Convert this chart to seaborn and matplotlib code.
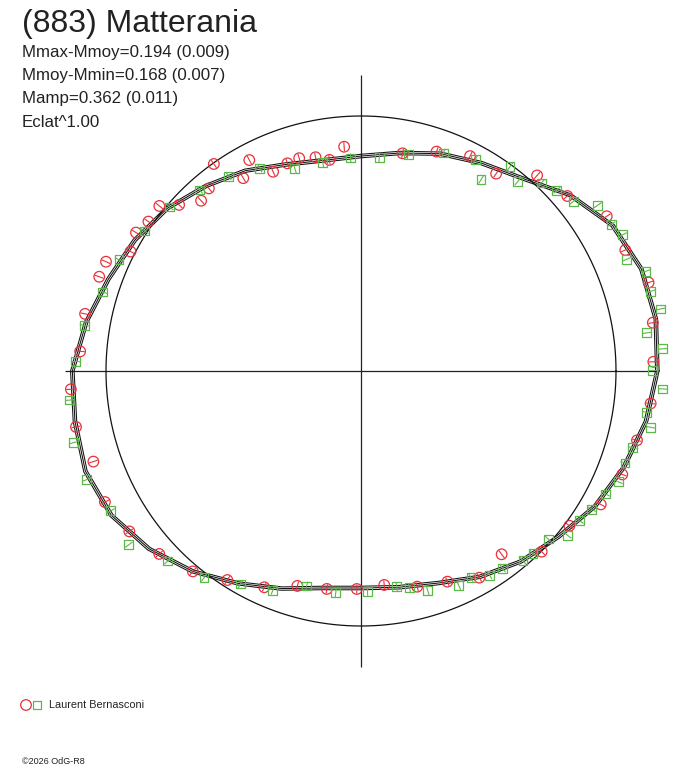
import numpy as np
import pandas as pd
import matplotlib
matplotlib.use("Agg")
import matplotlib.pyplot as plt
import seaborn as sns

# ---------------- data (phase angle in degrees, relative radius; circle = 1) -------------
red_theta = [94.3, 117.9, 125.4, 106.2, 102.0, 98.5, 109.5, 113.8, 121.4, 129.8,
             133.2, 137.6, 140.7, 144.9, 148.4, 152.6, 156.8, 160.2, 168.3, 176.0,
             79.2, 71.0, 63.1, 55.6, 48.0, 40.3, 32.2, 24.6, 17.1, 9.4, 1.8,
             183.6, 191.1, 198.7, 207.1, 214.7, 222.2, 230.0, 237.4, 245.9, 253.5,
             261.1, 268.9, 276.2, 284.6, 292.3, 299.8, 307.5, 315.0, 323.4, 330.9,
             338.4, 345.9, 353.6]
red_r = [0.882, 0.936, 0.996, 0.869, 0.857, 0.837, 0.864, 0.854, 0.886, 0.932,
         0.916, 0.966, 1.022, 1.019, 1.036, 1.018, 1.088, 1.091, 1.105, 1.104,
         0.869, 0.910, 0.945, 0.938, 1.032, 1.061, 1.139, 1.140, 1.180, 1.160, 1.147,
         1.140, 1.139, 1.108, 1.128, 1.105, 1.068, 1.026, 0.973, 0.929, 0.879,
         0.865, 0.855, 0.844, 0.874, 0.893, 0.934, 0.906, 1.002, 1.018, 1.076,
         1.102, 1.116, 1.143]

green_theta = [92.8, 100.4, 108.1, 116.5, 124.2, 131.7, 139.4, 147.1, 155.3, 163.0,
               170.6, 178.1, 85.1, 77.7, 69.3, 61.6, 53.9, 57.9, 50.4, 46.2, 42.7,
               38.6, 35.0, 30.4, 27.5, 22.8, 19.3, 15.4, 11.7, 7.6, 4.2, 0.1,
               185.7, 194.0, 201.6, 209.2, 216.8, 224.5, 232.8, 240.5, 248.1, 255.8,
               263.5, 271.7, 279.4, 282.6, 286.9, 294.5, 298.0, 302.2, 305.7, 310.5,
               313.3, 318.1, 321.5, 325.6, 329.1, 333.3, 336.7, 340.8, 344.2, 349.0,
               351.8, 356.6]
green_r = [0.836, 0.831, 0.835, 0.889, 0.924, 0.951, 0.988, 1.010, 1.045, 1.059,
           1.100, 1.119, 0.840, 0.868, 0.914, 0.944, 0.992, 0.886, 0.964, 1.022, 1.045,
           1.066, 1.134, 1.138, 1.157, 1.130, 1.184, 1.178, 1.200, 1.130, 1.186, 1.144,
           1.148, 1.161, 1.157, 1.124, 1.137, 1.063, 1.018, 0.960, 0.927, 0.870,
           0.875, 0.864, 0.856, 0.871, 0.900, 0.925, 0.918, 0.946, 0.953, 0.978,
           0.984, 0.986, 1.036, 1.040, 1.055, 1.073, 1.099, 1.096, 1.106, 1.156,
           1.132, 1.185]

err = 0.018  # radial error bar half-length

fit_theta = list(range(0, 360, 10))
fit_r = [1.162, 1.174, 1.170, 1.140, 1.072, 0.986, 0.942, 0.907, 0.868, 0.843,
         0.839, 0.862, 0.907, 0.947, 0.992, 1.025, 1.054, 1.095, 1.132, 1.139,
         1.150, 1.131, 1.085, 1.026, 0.962, 0.908, 0.864, 0.851, 0.861, 0.885,
         0.932, 0.975, 1.011, 1.060, 1.098, 1.135]
fit_sigma = 0.007

title = "(883) Matterania"
info_lines = ["Mmax-Mmoy=0.194 (0.009)", "Mmoy-Mmin=0.168 (0.007)",
              "Mamp=0.362 (0.011)", "Eclat^1.00"]
observer = "Laurent Bernasconi"
credit = "\u00a92026 OdG-R8"

RED = "#e8303a"
GREEN = "#5cb848"

# ---------------- figure ----------------
sns.set_theme(style="white")
plt.rcParams["font.family"] = ["Liberation Sans", "DejaVu Sans"]

W, H = 688, 768
fig = plt.figure(figsize=(W / 100, H / 100), dpi=100)
fig.patch.set_facecolor("white")

cx, cy, unit = 361, 371, 255.0
RMAX = 1.3
half = RMAX * unit
ax = fig.add_axes([(cx - half) / W, (H - cy - half) / H, 2 * half / W, 2 * half / H],
                  projection="polar")
ax.set_theta_zero_location("E")
ax.set_theta_direction(1)
ax.set_ylim(0, RMAX)
ax.set_axis_off()

red_df = pd.DataFrame({"theta": np.deg2rad(red_theta), "r": red_r})
green_df = pd.DataFrame({"theta": np.deg2rad(green_theta), "r": green_r})

# cross axes
L = 1.161
ax.vlines(np.deg2rad([0, 90, 180, 270]), 0, L, color="#222222", lw=0.9, zorder=1)
# reference circle
tt = np.linspace(0, 2 * np.pi, 721)
ax.plot(tt, np.ones_like(tt), color="#111111", lw=0.9, zorder=1)

# fit curve with +/- sigma envelope
ft = np.deg2rad(fit_theta + [360])
fr = np.array(fit_r + [fit_r[0]])
for k in (-1, 0, 1):
    ax.plot(ft, fr + k * fit_sigma, color="#111111", lw=0.75, zorder=2)

# error bars
ax.vlines(red_df.theta, red_df.r - err, red_df.r + err, color=RED, lw=0.8, zorder=3)
ax.vlines(green_df.theta, green_df.r - err, green_df.r + err, color=GREEN, lw=0.8, zorder=3)

sns.scatterplot(data=red_df, x="theta", y="r", ax=ax, marker="o", s=58,
                facecolor="none", edgecolor=RED, linewidth=0.9, zorder=4, legend=False)
sns.scatterplot(data=green_df, x="theta", y="r", ax=ax, marker="s", s=40,
                facecolor="none", edgecolor=GREEN, linewidth=0.9, zorder=4, legend=False)
ax.set_ylim(0, RMAX)
ax.set_axis_off()

# texts
fig.text(22 / W, 1 - 24 / H, title, fontsize=23, color="#222222", va="center", ha="left")
for i, line in enumerate(info_lines):
    fig.text(22 / W, 1 - (52 + i * 23.5) / H, line, fontsize=12.2, color="#222222",
             va="center", ha="left")

# legend
lax = fig.add_axes([0, 0, 1, 1], facecolor="none")
lax.set_xlim(0, W)
lax.set_ylim(H, 0)
lax.set_axis_off()
lax.scatter([26], [705], marker="o", s=58, facecolor="none", edgecolor=RED, linewidth=0.9)
lax.scatter([37], [705], marker="s", s=40, facecolor="none", edgecolor=GREEN, linewidth=0.9)
lax.text(49, 705, observer, fontsize=7.8, color="#222222", va="center", ha="left")
lax.text(22, 762, credit, fontsize=6.5, color="#222222", va="center", ha="left")

fig.savefig("out.png", dpi=100, facecolor="white")
